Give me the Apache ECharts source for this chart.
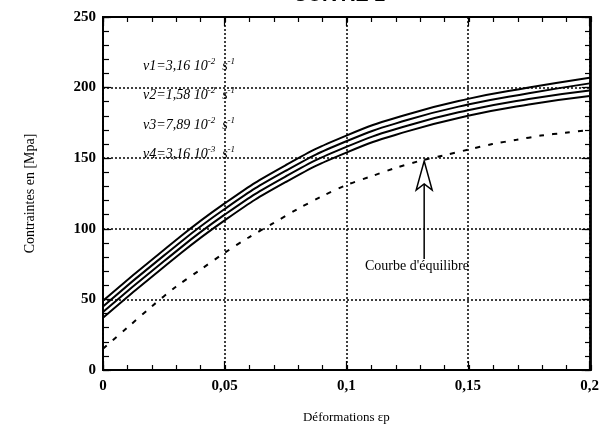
<!DOCTYPE html>
<html>
<head>
<meta charset="utf-8">
<script src="https://cdn.jsdelivr.net/npm/echarts@6/dist/echarts.min.js"></script>
<style>
  html, body { margin: 0; padding: 0; background: #fff; }
  #main { width: 602px; height: 436px; }
</style>
</head>
<body>
<div id="main"></div>
<script>
// strain steps (solid curves) and equilibrium steps
const strainSteps = [0, 0.025, 0.05, 0.075, 0.1, 0.125, 0.15, 0.175, 0.2];
const v1Values = [49, 85, 118, 145, 166, 181, 192, 200, 207];
const v2Values = [45, 81, 114, 141, 162, 177, 188, 196, 203];
const v3Values = [41, 77, 110, 137, 158, 173, 184, 192, 198];
const v4Values = [37, 73, 106, 133, 154, 169, 180, 188, 194];

const eqSteps = [0, 0.01, 0.02, 0.03, 0.04, 0.05, 0.06, 0.07, 0.08, 0.09, 0.1,
  0.11, 0.12, 0.13, 0.14, 0.15, 0.16, 0.17, 0.18, 0.19, 0.2];
const eqValues = [15, 30, 45, 59, 71, 83, 94, 104, 114, 123, 131,
  137, 143, 148, 152, 156, 160, 163, 166, 168, 170];

const rateLabels = [
  ['v1=3,16 10', '-2'],
  ['v2=1,58 10', '-2'],
  ['v3=7,89 10', '-2'],
  ['v4=3,16 10', '-3']
];
const arrowTip = [0.132, 148];

const serif = '"Liberation Serif", "DejaVu Serif", serif';
const chart = echarts.init(document.getElementById('main'), null, { renderer: 'canvas' });

function pairs(xs, ys) {
  return xs.map((x, i) => [x, ys[i]]);
}

function solid(name, vals) {
  return {
    name: name,
    type: 'line',
    data: pairs(strainSteps, vals),
    smooth: 0.5,
    symbol: 'none',
    lineStyle: { color: '#000', width: 2 },
    silent: true
  };
}

const black = { color: '#000', width: 1.8 };
const tickStyle = { color: '#000', width: 1.2 };

// tick-only axis (no labels, no grid lines)
function tickAxis(gridIndex, position, min, max, interval, len) {
  return {
    type: 'value', gridIndex: gridIndex, position: position,
    min: min, max: max, interval: interval,
    axisLine: { show: true, onZero: false, lineStyle: black },
    axisTick: { show: true, inside: true, length: len, lineStyle: tickStyle },
    axisLabel: { show: false },
    splitLine: { show: false }
  };
}

const option = {
  animation: false,
  backgroundColor: '#fff',
  title: {
    text: 'CUIVRE 1',
    left: 288,
    top: -20,
    textStyle: { fontFamily: '"Liberation Sans", Arial, sans-serif', fontWeight: 'bold', fontSize: 20, color: '#000' }
  },
  grid: [
    { left: 103, right: 11, top: 17, bottom: 66, containLabel: false },
    { left: 103, right: 11, top: 17, bottom: 66, containLabel: false }
  ],
  xAxis: [{
    type: 'value', gridIndex: 0, position: 'bottom',
    min: 0, max: 0.2, interval: 0.05,
    name: 'Déformations εp',
    nameLocation: 'middle',
    nameGap: 41,
    nameTextStyle: { fontFamily: serif, fontSize: 13, color: '#000' },
    axisLine: { onZero: false, lineStyle: black },
    axisTick: { inside: true, length: 9, lineStyle: tickStyle },
    axisLabel: {
      margin: 9,
      fontFamily: serif, fontSize: 15, fontWeight: 'bold', color: '#000',
      formatter: v => String(Math.round(v * 100) / 100).replace('.', ',')
    },
    splitLine: { show: true, lineStyle: { color: '#000', type: [2, 2], width: 1.5 } }
  },
  tickAxis(0, 'top', 0, 0.2, 0.05, 9),
  tickAxis(1, 'bottom', 0, 0.2, 0.01, 5),
  tickAxis(1, 'top', 0, 0.2, 0.01, 5)
  ],
  yAxis: [{
    type: 'value', gridIndex: 0, position: 'left',
    min: 0, max: 250, interval: 50,
    name: 'Contraintes en [Mpa]',
    nameLocation: 'middle',
    nameGap: 66,
    nameTextStyle: { fontFamily: serif, fontSize: 14, color: '#000' },
    axisLine: { show: true, onZero: false, lineStyle: black },
    axisTick: { inside: true, length: 8, lineStyle: tickStyle },
    axisLabel: { margin: 7, fontFamily: serif, fontSize: 15, fontWeight: 'bold', color: '#000' },
    splitLine: { show: true, lineStyle: { color: '#000', type: [2, 2], width: 1.5 } }
  },
  tickAxis(0, 'right', 0, 250, 50, 8),
  tickAxis(1, 'left', 0, 250, 10, 6),
  tickAxis(1, 'right', 0, 250, 10, 6)
  ],
  series: [
    solid('v1', v1Values),
    solid('v2', v2Values),
    solid('v3', v3Values),
    solid('v4', v4Values),
    {
      name: "Courbe d'équilibre",
      type: 'line',
      data: pairs(eqSteps, eqValues),
      smooth: 0.3,
      symbol: 'none',
      lineStyle: { color: '#000', width: 2, type: [5, 8] },
      silent: true
    }
  ]
};
chart.setOption(option);

// rate labels and arrow annotation
const graphics = rateLabels.map((lab, i) => ({
  type: 'text',
  left: 143,
  top: 57 + i * 29.5,
  style: {
    text: '{a|' + lab[0] + '}{s|' + lab[1] + '}{a|  s}{s|-1}',
    rich: {
      a: { fontFamily: serif, fontStyle: 'italic', fontSize: 14, lineHeight: 18, fill: '#000' },
      s: { fontFamily: serif, fontStyle: 'italic', fontSize: 9, lineHeight: 18, verticalAlign: 'top', fill: '#000' }
    }
  }
}));

const tip = chart.convertToPixel({ gridIndex: 0 }, arrowTip);
graphics.push({
  type: 'line',
  shape: { x1: tip[0], y1: tip[1] + 23, x2: tip[0], y2: tip[1] + 98 },
  style: { stroke: '#000', lineWidth: 1.5 }
});
graphics.push({
  type: 'polygon',
  shape: { points: [[tip[0], tip[1]], [tip[0] + 8, tip[1] + 29], [tip[0], tip[1] + 23], [tip[0] - 8, tip[1] + 29]] },
  style: { fill: '#fff', stroke: '#000', lineWidth: 1.5 }
});
graphics.push({
  type: 'text',
  left: 365,
  top: 259,
  style: { text: "Courbe d'équilibre", fontFamily: serif, fontSize: 14, fill: '#000' }
});
chart.setOption({ graphic: graphics });
</script>
</body>
</html>
